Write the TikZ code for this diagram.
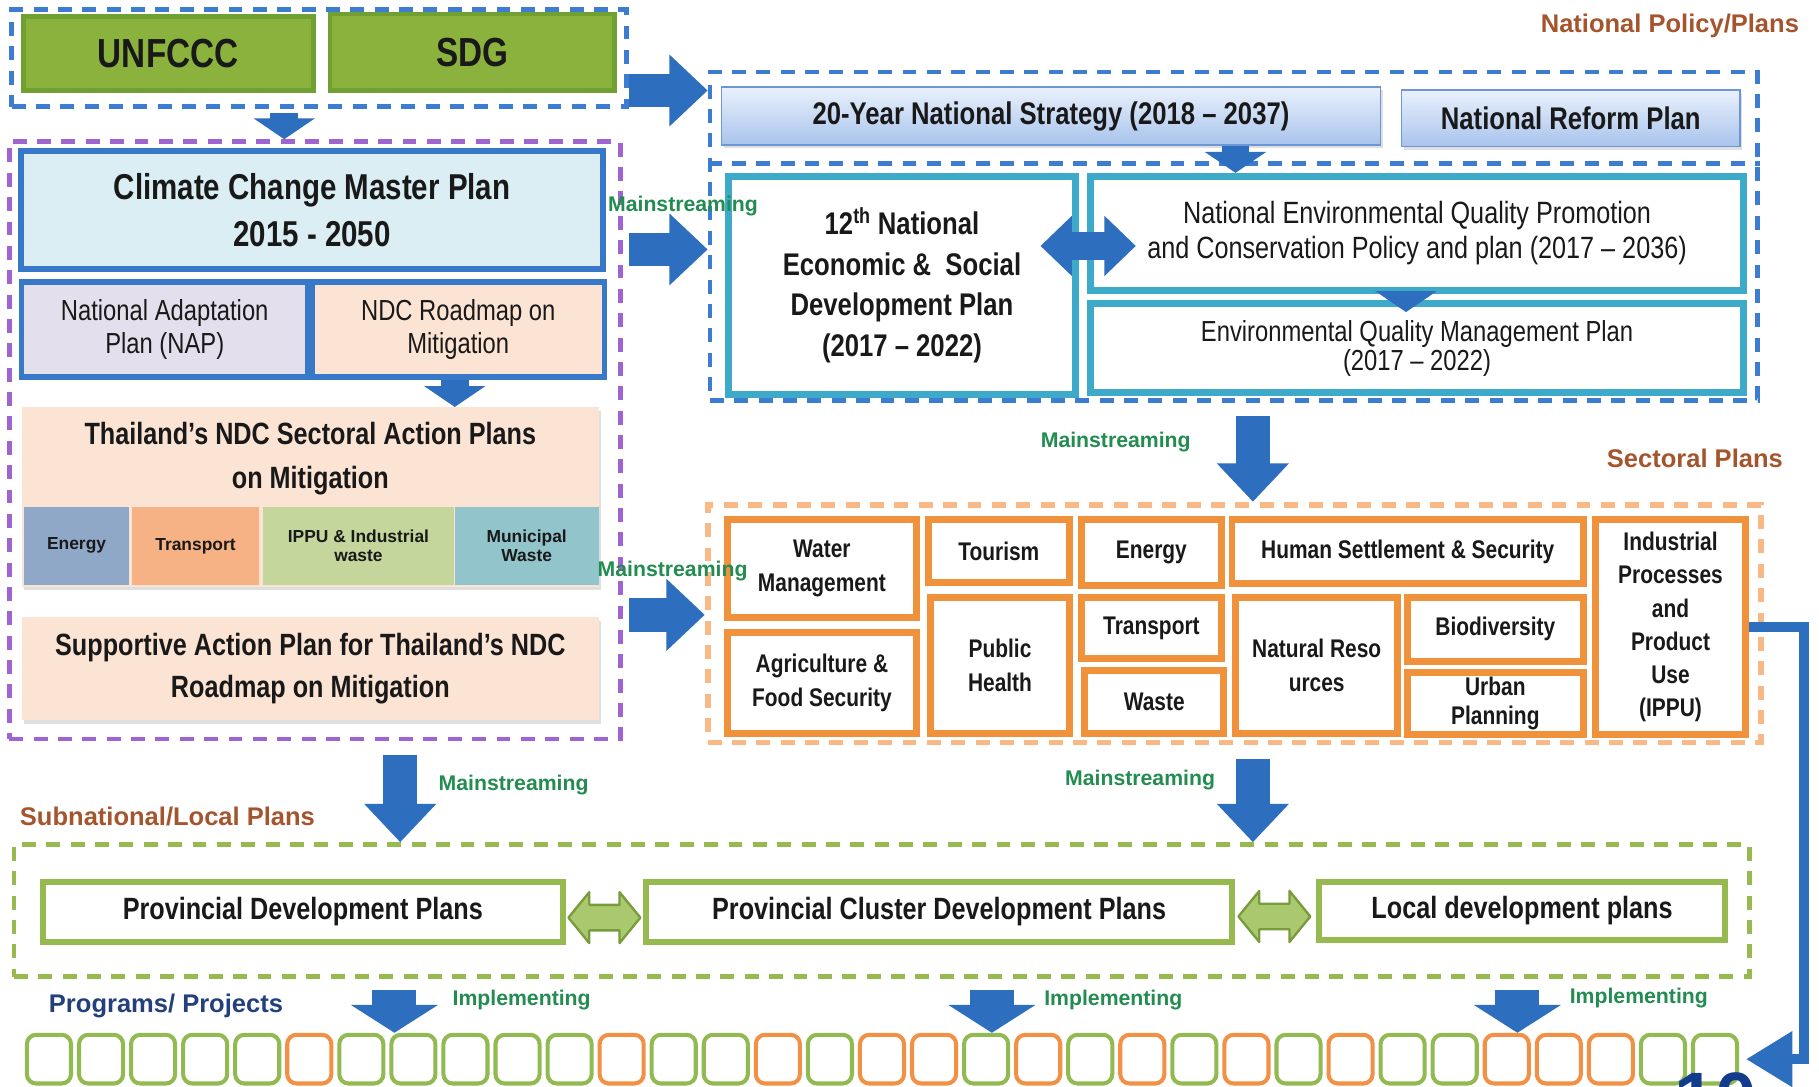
\documentclass[tikz,border=0pt]{standalone}
\usepackage{fontspec}
\setmainfont{Liberation Sans}[FakeStretch=0.82]
\newfontfamily\lblfont{Liberation Sans}
\usetikzlibrary{arrows.meta,shadows}
\definecolor{txt}{RGB}{25,25,25}
\definecolor{arrblue}{RGB}{46,110,190}
\definecolor{dblue}{RGB}{60,125,210}
\definecolor{dpurple}{RGB}{160,100,210}
\definecolor{lorange}{RGB}{248,185,135}
\definecolor{lgreen}{RGB}{150,185,80}
\definecolor{unfill}{RGB}{140,178,62}
\definecolor{unline}{RGB}{112,160,50}
\definecolor{planblue}{RGB}{55,120,200}
\definecolor{ccfill}{RGB}{218,238,243}
\definecolor{napfill}{RGB}{228,223,236}
\definecolor{peach}{RGB}{252,228,212}
\definecolor{nsline}{RGB}{110,150,215}
\definecolor{nstop}{RGB}{234,241,252}
\definecolor{nsbot}{RGB}{168,195,236}
\definecolor{tealb}{RGB}{60,170,200}
\definecolor{secorange}{RGB}{240,145,60}
\definecolor{provgreen}{RGB}{150,185,80}
\definecolor{s1}{RGB}{143,168,200}
\definecolor{s2}{RGB}{246,178,132}
\definecolor{s3}{RGB}{196,214,155}
\definecolor{s4}{RGB}{146,196,204}
\definecolor{brownlbl}{RGB}{165,85,45}
\definecolor{mgreen}{RGB}{35,140,80}
\definecolor{progblue}{RGB}{35,64,125}
\definecolor{numblue}{RGB}{20,60,140}
\definecolor{pg}{RGB}{146,186,82}
\definecolor{po}{RGB}{242,145,70}
\definecolor{dblfill}{RGB}{170,200,110}
\definecolor{dblline}{RGB}{120,155,60}
\newcommand{\fsz}[2]{\fontsize{#1}{#2}\selectfont}

\begin{document}
\begin{tikzpicture}[x=1pt,y=-1pt,
	every node/.style={inner sep=0pt,align=center,text=txt},
	dashframe/.style={draw,line width=4pt,dash pattern=on 12pt off 9pt},
	topbox/.style={draw=unline,fill=unfill,line width=4pt,font=\fsz{35}{40}\bfseries},
	planbox/.style={draw=planblue,line width=5pt},
	peachbox/.style={fill=peach,drop shadow={shadow xshift=2pt,shadow yshift=-3pt,opacity=.25}},
	subbox/.style={minimum height=67pt,font=\lblfont\fsz{15}{17}\bfseries},
	nsbox/.style={draw=nsline,line width=1.2pt,top color=nstop,bottom color=nsbot,font=\fsz{27}{32}\bfseries,drop shadow={shadow xshift=2pt,shadow yshift=-3pt,opacity=.25}},
	tealbox/.style={draw=tealb,fill=white,line width=6pt},
	secbox/.style={draw=secorange,fill=white,line width=6pt,font=\fsz{22}{29}\bfseries},
	provbox/.style={draw=provgreen,fill=white,line width=5pt,font=\fsz{26.5}{30}\bfseries},
	lbl/.style={anchor=west,font=\lblfont\fsz{22}{26}\bfseries,text=brownlbl},
	mlbl/.style={anchor=west,font=\lblfont\fsz{18.3}{22}\bfseries,text=mgreen},
	pbox/.style={line width=3.5pt,rounded corners=8pt,minimum width=38pt,minimum height=42pt},
	bigarrow/.style={draw=arrblue,line width=29pt,-{Triangle[width=60pt,length=33pt]}},
	smallarrow/.style={draw=arrblue,line width=24pt,-{Triangle[width=52pt,length=18pt]}},
	imparrow/.style={draw=arrblue,line width=38pt,-{Triangle[width=74pt,length=24pt]}},
	dblarrow/.style={fill=dblfill,draw=dblline,line width=2pt,line join=round}]
	
	\useasboundingbox (0,0) rectangle (1568,937);
	\clip (0,0) rectangle (1568,937);
	\fill[white] (0,0) rectangle (1568,937);
	
	\node[dashframe,draw=dblue,minimum width=530pt,minimum height=84pt] (unframe) at (275,50) {};
	\node[dashframe,draw=dpurple,minimum width=527pt,minimum height=515pt] (ccframe) at (271.5,379.5) {};
	\node[dashframe,draw=dblue,minimum width=903pt,minimum height=283pt] (natframe) at (1063.5,203.5) {};
	\draw[dashframe,draw=dblue] ([yshift=-81pt]natframe.north west) -- ([yshift=-81pt]natframe.north east);
	\node[dashframe,draw=lorange,line width=5pt,minimum width=908pt,minimum height=205pt] (secframe) at (1064,537.5) {};
	\node[dashframe,draw=lgreen,minimum width=1496pt,minimum height=114pt] (locframe) at (760,785) {};
	
	\node[topbox,minimum width=250pt,minimum height=64pt] (unfccc) at (145,46) {UNFCCC};
	\node[topbox,minimum width=245pt,minimum height=66pt] (sdg) at (407,45) {SDG};
	
	\node[planbox,fill=ccfill,minimum width=502pt,minimum height=102pt,font=\fsz{31}{40}\bfseries] (ccmp) at (269,181) {Climate Change Master Plan\\2015 - 2050};
	\node[planbox,fill=napfill,minimum width=247pt,minimum height=82pt,font=\fsz{25}{28}] (nap) at (142,284) {National Adaptation\\Plan (NAP)};
	\node[planbox,fill=peach,minimum width=252pt,minimum height=82pt,font=\fsz{25}{28}] (ndc) at (395,284) {NDC Roadmap on\\Mitigation};
	\node[peachbox,minimum width=497pt,minimum height=155pt] (thai) at (267.5,428.5) {};
	\node[font=\fsz{26.5}{38}\bfseries] (thaititle) at (267.5,395) {Thailand's NDC Sectoral Action Plans\\on Mitigation};
	\node[subbox,fill=s1,minimum width=90pt] (tenergy) at (66,470.5) {Energy};
	\node[subbox,fill=s2,minimum width=109pt] (ttransport) at (168.5,470.5) {Transport};
	\node[subbox,fill=s3,minimum width=164pt] (tippu) at (309,470.5) {IPPU \& Industrial\\waste};
	\node[subbox,fill=s4,minimum width=124pt] (twaste) at (454,470.5) {Municipal\\Waste};
	\node[peachbox,minimum width=497pt,minimum height=89pt,font=\fsz{26.5}{36}\bfseries] (support) at (267.5,576.5) {Supportive Action Plan for Thailand's NDC\\Roadmap on Mitigation};
	
	\node[nsbox,minimum width=568pt,minimum height=50pt] (ys20) at (906,100) {20-Year National Strategy (2018 -- 2037)};
	\node[nsbox,minimum width=292pt,minimum height=49pt] (reform) at (1354,102) {National Reform Plan};
	\node[tealbox,minimum width=299pt,minimum height=188pt,font=\fsz{27}{35}\bfseries] (plan12) at (777.5,246) {12\textsuperscript{th} National\\Economic \&\ \ Social\\Development Plan\\(2017 -- 2022)};
	\node[tealbox,minimum width=563pt,minimum height=98pt,font=\fsz{26.5}{30}] (neq) at (1221.5,201) {National Environmental Quality Promotion\\and Conservation Policy and plan (2017 -- 2036)};
	\node[tealbox,minimum width=563pt,minimum height=76pt,font=\fsz{25}{25}] (eqmp) at (1221.5,300) {Environmental Quality Management Plan\\(2017 -- 2022)};
	
	\node[secbox,minimum width=163pt,minimum height=84pt] (water) at (708.5,490) {Water\\Management};
	\node[secbox,minimum width=163pt,minimum height=87pt] (agri) at (708.5,588.5) {Agriculture \&\\Food Security};
	\node[secbox,minimum width=122pt,minimum height=54pt] (tourism) at (861,475) {Tourism};
	\node[secbox,minimum width=120pt,minimum height=117pt] (health) at (862,573.5) {Public\\Health};
	\node[secbox,minimum width=121pt,minimum height=57pt] (senergy) at (992.5,476.5) {Energy};
	\node[secbox,minimum width=121pt,minimum height=53pt] (stransport) at (992.5,541.5) {Transport};
	\node[secbox,minimum width=120pt,minimum height=54pt] (swaste) at (995,605) {Waste};
	\node[secbox,minimum width=303pt,minimum height=55pt] (human) at (1213.5,475.5) {Human Settlement \& Security};
	\node[secbox,minimum width=140pt,minimum height=117pt] (natres) at (1135,573.5) {Natural Reso\\urces};
	\node[secbox,minimum width=152pt,minimum height=55pt] (biodiv) at (1289,542.5) {Biodiversity};
	\node[secbox,minimum width=152pt,minimum height=53pt,font=\fsz{22}{25}\bfseries] (urban) at (1289,606.5) {Urban\\Planning};
	\node[secbox,minimum width=130pt,minimum height=185pt,font=\fsz{22}{28.6}\bfseries] (ippu) at (1440,540.5) {Industrial\\Processes\\and\\Product\\Use\\(IPPU)};
	
	\node[provbox,minimum width=448pt,minimum height=52pt] (pdp) at (261,786) {Provincial Development Plans};
	\node[provbox,minimum width=505pt,minimum height=52pt] (pcdp) at (809.5,786) {Provincial Cluster Development Plans};
	\node[provbox,minimum width=350pt,minimum height=50pt] (ldp) at (1312,785) {Local development plans};
	
	\foreach \c [count=\i] in {pg,pg,pg,pg,pg,po,pg,pg,pg,pg,pg,po,pg,pg,po,pg,po,po,pg,po,pg,po,pg,po,pg,po,pg,pg,po,po,po,pg,pg}
		\node[pbox,draw=\c] (b\i) at ({42.2+44.88*(\i-1)},913) {};
	
	\node[lbl] (natpol) at (1328,22) {National Policy/Plans};
	\node[lbl] (secpl) at (1385,395) {Sectoral Plans};
	\node[lbl] (subnat) at (17,704) {Subnational/Local Plans};
	\node[lbl,text=progblue] (progs) at (42,867) {Programs/ Projects};
	\node[mlbl] (m1) at (524,178) {Mainstreaming};
	\node[mlbl] (m2) at (515,492) {Mainstreaming};
	\node[mlbl] (m3) at (897,381) {Mainstreaming};
	\node[mlbl] (m4) at (918,672) {Mainstreaming};
	\node[mlbl] (m5) at (378,677) {Mainstreaming};
	\node[mlbl] (imp1) at (390,862) {Implementing};
	\node[mlbl] (imp2) at (900,862) {Implementing};
	\node[mlbl] (imp3) at (1353,860) {Implementing};
	\node[anchor=north,font=\lblfont\fsz{64}{70}\bfseries,text=numblue] (pageno) at (1479,924) {10};
	
	\coordinate (dA) at (245,0);
	\coordinate (dB) at (392,0);
	\coordinate (dC) at (1065,0);
	\coordinate (dD) at (1212,0);
	\coordinate (dE) at (1080,0);
	\coordinate (dF) at (345,0);
	\coordinate (i1) at (340,0);
	\coordinate (i2) at (855,0);
	\coordinate (i3) at (1308,0);
	\coordinate (hA) at (0,78);
	\coordinate (hB) at (0,215);
	\coordinate (hC) at (0,530);
	\coordinate (dbl) at (938,212);
	\coordinate (g1) at (521,791);
	\coordinate (g2) at (1098.5,790);
	
	\draw[smallarrow,shorten <=3pt] (unframe.south -| dA) -- (ccframe.north -| dA);
	\draw[smallarrow] (ndc.south -| dB) -- (thai.north -| dB);
	\draw[smallarrow] (ys20.south -| dC) -- (neq.north -| dC);
	\draw[smallarrow,shorten >=-10pt] (neq.south -| dD) -- (eqmp.north -| dD);
	\draw[bigarrow] (unframe.east |- hA) -- (natframe.west |- hA);
	\draw[bigarrow,shorten <=5pt] (ccframe.east |- hB) -- (natframe.west |- hB);
	\draw[bigarrow,shorten <=5pt] (ccframe.east |- hC) -- (secframe.west |- hC);
	\draw[bigarrow,shorten <=12pt] (natframe.south -| dE) -- (secframe.north -| dE);
	\draw[bigarrow,shorten <=12pt] (ccframe.south -| dF) -- (locframe.north -| dF);
	\draw[bigarrow,shorten <=12pt] (secframe.south -| dE) -- (locframe.north -| dE);
	\draw[imparrow,shorten <=9pt] (locframe.south -| i1) -- (b1.north -| i1);
	\draw[imparrow,shorten <=9pt] (locframe.south -| i2) -- (b1.north -| i2);
	\draw[imparrow,shorten <=9pt] (locframe.south -| i3) -- (b1.north -| i3);
	\draw[draw=arrblue,line width=9pt,-{Triangle[width=46pt,length=40pt]}] (ippu.east) -- ++(47,0) |- ([xshift=6pt]b33.east);
	
	\fill[arrblue] ([xshift=-41pt]dbl) -- ++(27,-26) -- ++(0,14) -- ++(28,0) -- ++(0,-14) -- ++(27,26) -- ++(-27,26) -- ++(0,-14) -- ++(-28,0) -- ++(0,14) -- cycle;
	\filldraw[dblarrow] ([xshift=-31pt]g1) -- ++(18,-22) -- ++(0,11) -- ++(26,0) -- ++(0,-11) -- ++(18,22) -- ++(-18,22) -- ++(0,-11) -- ++(-26,0) -- ++(0,11) -- cycle;
	\filldraw[dblarrow] ([xshift=-31pt]g2) -- ++(18,-22) -- ++(0,11) -- ++(26,0) -- ++(0,-11) -- ++(18,22) -- ++(-18,22) -- ++(0,-11) -- ++(-26,0) -- ++(0,11) -- cycle;
	
\end{tikzpicture}
\end{document}
